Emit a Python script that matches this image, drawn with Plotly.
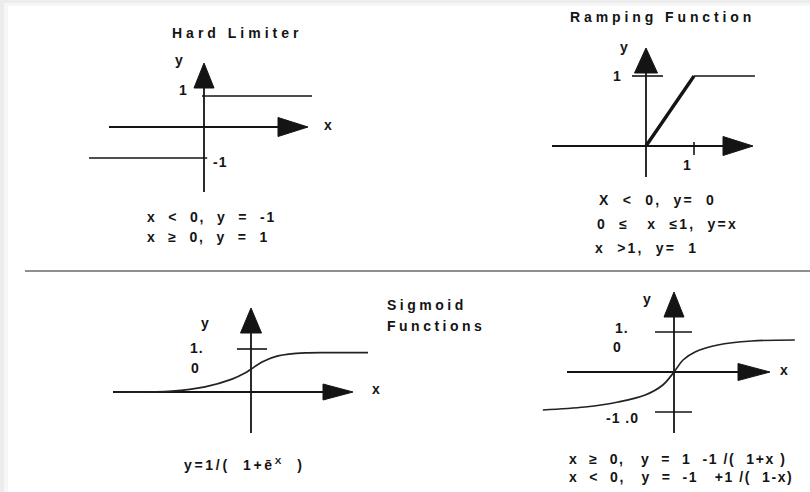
import plotly.graph_objects as go

W, H = 810, 492

# ---------------- data (function values) ----------------
HARD_NEG_X = [-2.875, 0.08]
HARD_NEG_Y = [-1, -1]
HARD_POS_X = [-0.05, 2.7]
HARD_POS_Y = [1, 1]

RAMP_SLOPE_X = [0, 1]
RAMP_SLOPE_Y = [0, 1]
RAMP_FLAT_X = [1, 2.27]
RAMP_FLAT_Y = [1, 1]

SIG_X = [-3.4, -1.975, -1.15, -0.475, -0.15, 0, 0.275, 0.675, 1.35, 2.175, 2.925]
SIG_Y = [0.0, 0.02, 0.12, 0.30, 0.44, 0.53, 0.70, 0.84, 0.91, 0.915, 0.915]

SOFT_X = [-3.05, -2.07, -1.30, -0.67, -0.26, 0, 0.21, 0.49, 1.02, 1.81, 2.81]
SOFT_Y = [-0.95, -0.875, -0.75, -0.575, -0.325, 0, 0.30, 0.50, 0.675, 0.775, 0.80]

TITLES = ["Hard Limiter", "Ramping Function", "Sigmoid", "Functions"]
HARD_EQ = ["x  <  0,  y  =  -1", "x  \u2265  0,  y  =  1"]
RAMP_EQ = ["X  <  0,  y=  0", "0  \u2264   x  \u22641,  y=x", "x  >1,  y=  1"]
SIG_EQ = ["y=1/(  1+\u0113<sup>X</sup>  )"]
SOFT_EQ = ["x  \u2265  0,   y  =  1  -1 /(  1+x )", "x  <  0,   y  =  -1   +1 /(  1-x)"]

# ---------------- layout of the four panels (pixel origin + scale) ----------------
PANELS = {
    "hard": dict(ax="", ox=204, oy=127, sx=40, sy=31),
    "ramp": dict(ax="2", ox=646, oy=146, sx=48, sy=70),
    "sig": dict(ax="3", ox=251, oy=392, sx=40, sy=43),
    "soft": dict(ax="4", ox=674, oy=372, sx=43, sy=40),
}

INK = "#141414"
FONT = "Liberation Sans, Arial, Helvetica, sans-serif"

fig = go.Figure()


def ux(p, px):
    return (px - p["ox"]) / p["sx"]


def uy(p, py):
    return (p["oy"] - py) / p["sy"]


def line(p, xs, ys, width=1.8, color=INK, shape="linear"):
    fig.add_trace(go.Scatter(x=xs, y=ys, mode="lines",
                             line=dict(color=color, width=width, shape=shape),
                             xaxis="x" + p["ax"], yaxis="y" + p["ax"],
                             hoverinfo="skip", showlegend=False))


def tri(p, pts):
    xs = [ux(p, a) for a, b in pts] + [ux(p, pts[0][0])]
    ys = [uy(p, b) for a, b in pts] + [uy(p, pts[0][1])]
    fig.add_trace(go.Scatter(x=xs, y=ys, mode="lines", fill="toself",
                             fillcolor=INK, line=dict(color=INK, width=1),
                             xaxis="x" + p["ax"], yaxis="y" + p["ax"],
                             hoverinfo="skip", showlegend=False))


def axes(p, hx0, htip, hlen, hhw, vbot, vtip, vlen, vhw):
    oy, ox = p["oy"], p["ox"]
    line(p, [ux(p, hx0), ux(p, htip - hlen + 2)], [0, 0], 1.8)
    tri(p, [(htip, oy), (htip - hlen, oy - hhw), (htip - hlen, oy + hhw)])
    line(p, [0, 0], [uy(p, vbot), uy(p, vtip + vlen - 2)], 1.8)
    tri(p, [(ox, vtip), (ox - vhw, vtip + vlen), (ox + vhw, vtip + vlen)])


# Hard limiter
P = PANELS["hard"]
axes(P, 109, 308, 30, 9.5, 192, 63, 25, 10)
line(P, HARD_NEG_X, HARD_NEG_Y, 1.6)
line(P, HARD_POS_X, HARD_POS_Y, 1.6)

# Ramping
P = PANELS["ramp"]
axes(P, 552, 753, 30, 9.5, 177, 48, 25, 11.5)
line(P, [ux(P, 632), ux(P, 663)], [1, 1], 1.6)
line(P, [1, 1], [uy(P, 155), uy(P, 142)], 1.6)
line(P, RAMP_SLOPE_X, RAMP_SLOPE_Y, 3.4)
line(P, RAMP_FLAT_X, RAMP_FLAT_Y, 1.6)

# Sigmoid 0..1
P = PANELS["sig"]
axes(P, 113, 353, 30, 8, 433, 308, 25, 10.5)
line(P, [ux(P, 237), ux(P, 267)], [1, 1], 1.6)
line(P, SIG_X, SIG_Y, 1.7, "#222", "spline")

# Sigmoid -1..1
P = PANELS["soft"]
axes(P, 567, 770, 32, 8.5, 433, 292, 25, 10)
line(P, [ux(P, 655), ux(P, 692)], [1, 1], 1.6)
line(P, [ux(P, 655), ux(P, 692)], [-1, -1], 1.6)
line(P, SOFT_X, SOFT_Y, 1.7, "#222", "spline")

# separator
fig.add_shape(type="line", xref="paper", yref="paper",
              x0=25 / W, x1=1, y0=1 - 271 / H, y1=1 - 271 / H,
              line=dict(color="#6a6a6a", width=1.6))

# background frame
fig.add_shape(type="rect", xref="paper", yref="paper", layer="below",
              x0=4 / W, x1=1, y0=0, y1=1 - 3 / H,
              fillcolor="#f6f6f6", line=dict(width=0))
fig.add_shape(type="rect", xref="paper", yref="paper", layer="below",
              x0=8 / W, x1=1, y0=0, y1=1 - 6 / H,
              fillcolor="white", line=dict(width=0))


def text(t, px, py, size=14, ls=3.0, anchor="center"):
    fig.add_annotation(
        text=f'<span style="letter-spacing:{ls}px">{t}</span>',
        x=px / W, y=1 - py / H, xref="paper", yref="paper",
        xanchor=anchor, yanchor="middle", showarrow=False,
        font=dict(family=FONT, size=size, color=INK, weight="bold"))


# titles
text(TITLES[0], 237, 33, 14, 4.0)
text(TITLES[1], 662, 17, 14, 3.9)
text(TITLES[2], 385, 305, 14, 3.5, "left")
text(TITLES[3], 385, 326, 14, 3.5, "left")

# axis labels
for t, px, py in [("y", 179, 60), ("1", 183, 90), ("x", 328, 125), ("-1", 220, 162),
                  ("y", 624, 47), ("1", 617, 76), ("1", 687, 165),
                  ("y", 205, 323), ("1.", 197, 348), ("0", 195, 368), ("x", 376, 389),
                  ("y", 647, 299), ("1.", 622, 328), ("0", 617, 347), ("x", 784, 370),
                  ("-1 .0", 622, 418)]:
    text(t, px, py, 14, 1.0)

# equations
for i, t in enumerate(HARD_EQ):
    text(t, 145, 217 + 20 * i, 14, 1.9, "left")
for i, t in enumerate(RAMP_EQ):
    text(t, [597, 595, 593][i], 200 + 24 * i, 14, 2.2, "left")
text(SIG_EQ[0], 182, 464, 14, 2.7, "left")
for i, t in enumerate(SOFT_EQ):
    text(t, 567, 459 + 18 * i, 14, 1.6, "left")

layout = dict(width=W, height=H, margin=dict(l=0, r=0, t=0, b=0),
              paper_bgcolor="#ececec", plot_bgcolor="rgba(0,0,0,0)", showlegend=False)
for p in PANELS.values():
    a = p["ax"]
    layout["xaxis" + a] = dict(domain=[0, 1], range=[ux(p, 0), ux(p, W)], visible=False,
                               fixedrange=True, anchor="y" + a)
    layout["yaxis" + a] = dict(domain=[0, 1], range=[uy(p, H), uy(p, 0)], visible=False,
                               fixedrange=True, anchor="x" + a)
fig.update_layout(**layout)

fig.write_html("out.html", config={"displayModeBar": False},
               post_script="document.body.style.margin='0px';")
